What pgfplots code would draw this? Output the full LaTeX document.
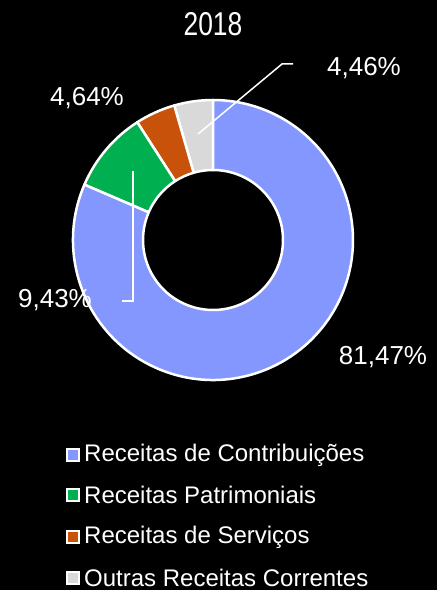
\documentclass[border=0pt]{standalone}
\usepackage{fontspec}
\setmainfont{Liberation Sans}
\newfontfamily\narrowfont[FakeStretch=0.8]{Liberation Sans}
\usepackage{pgfplots}
\pgfplotsset{compat=1.18}
\definecolor{contrib}{HTML}{8497FF}
\definecolor{patrim}{HTML}{00B050}
\definecolor{servic}{HTML}{C9520A}
\definecolor{outras}{HTML}{D9D9D9}

\begin{document}
\begin{tikzpicture}[x=1pt,y=1pt]
\fill[black] (0,0) rectangle (437,590);
\path[use as bounding box] (0,0) rectangle (437,590);
\begin{axis}[
    at={(72pt,209pt)}, anchor=south west,
    width=282pt, height=282pt, scale only axis,
    xmin=-1, xmax=1, ymin=-1, ymax=1,
    hide axis,
]
\addplot[draw=none] coordinates {(0,0)};
\coordinate (O) at (axis cs:0,0);
\end{axis}

% fatias, sentido anti-horario a partir do topo
\def\a{90}
\foreach \v/\col in {4.46/outras,4.64/servic,9.43/patrim,81.47/contrib}{
    \pgfmathsetmacro\b{\a+3.6*\v}
    \filldraw[fill=\col, draw=white, line width=2.5pt, line join=round]
        ([shift={(\a:140pt)}]O) arc[start angle=\a, end angle=\b, radius=140pt]
        -- ([shift={(\b:70pt)}]O) arc[start angle=\b, end angle=\a, radius=70pt] -- cycle;
    \global\let\a\b
}

% titulo e rotulos
\node[white, font=\narrowfont\fontsize{33}{33}\selectfont] at (213,566) {2018};
\begin{scope}[every node/.style={white, font=\fontsize{26}{26}\selectfont}]
\node at (364,522) {4,46\%};
\node at (87,492) {4,64\%};
\node at (55,290) {9,43\%};
\node at (383,233) {81,47\%};
\end{scope}
\draw[white, line width=1.5pt] (198,456) -- (282,526) -- (293,526);
\draw[white, line width=1.5pt] (133,419) -- (133,289) -- (122,289);

% legenda
\foreach \y/\col/\txt in {135/contrib/Receitas de Contribuições,
                          95/patrim/Receitas Patrimoniais,
                          53/servic/Receitas de Serviços,
                          12/outras/Outras Receitas Correntes}{
    \filldraw[fill=\col, draw=white, line width=1.5pt] (67,\y-6) rectangle (79,\y+6);
    \node[white, anchor=west, inner sep=0pt, font=\fontsize{24}{24}\selectfont] at (84,\y) {\txt};
}
\end{tikzpicture}
\end{document}
